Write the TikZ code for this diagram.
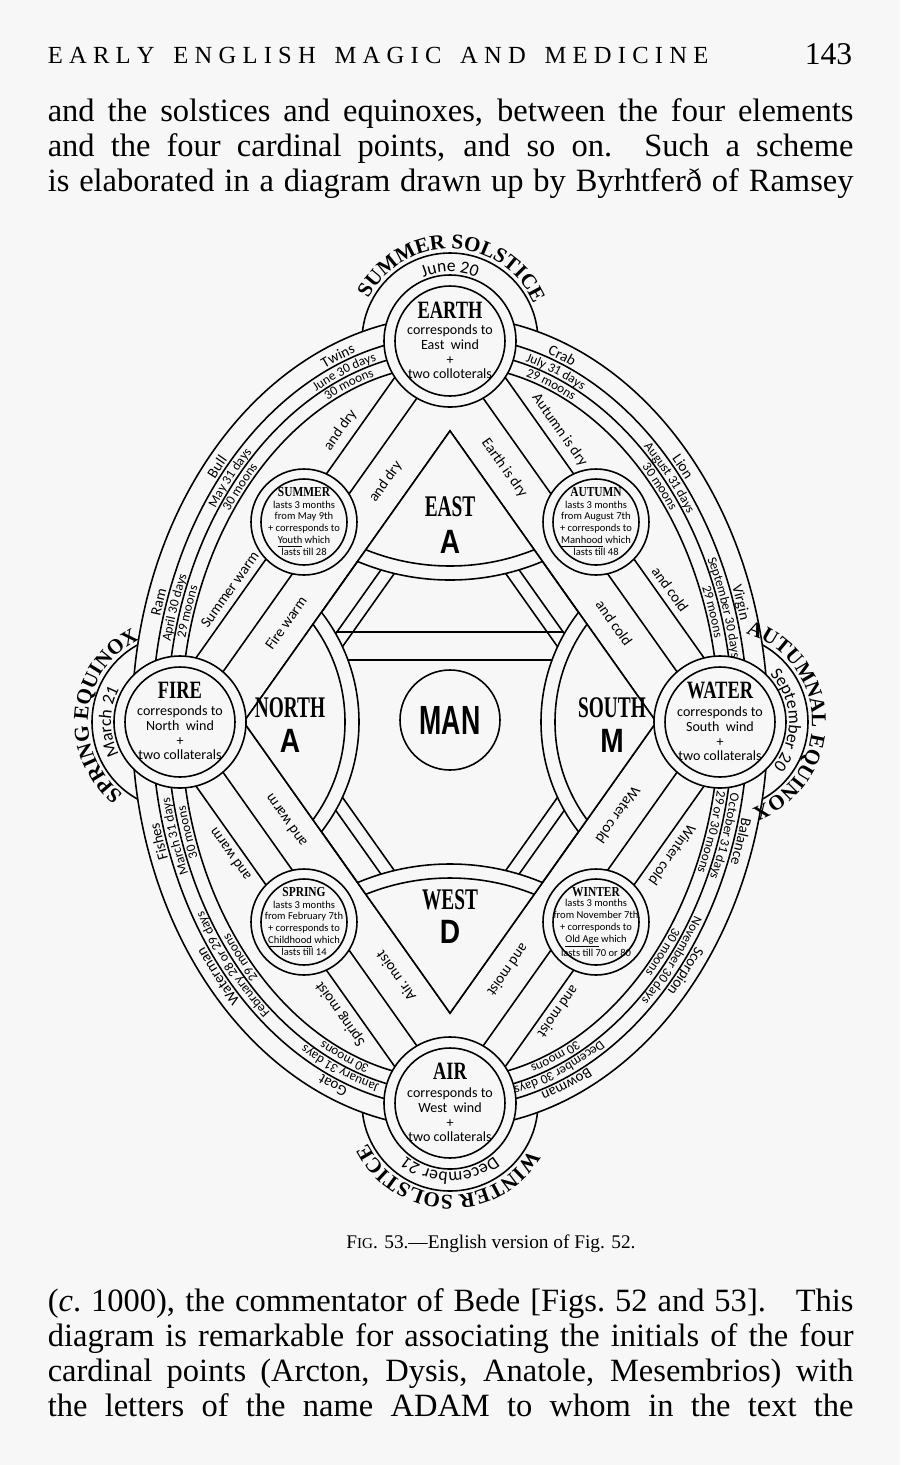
\documentclass[tikz,border=0pt]{standalone}
\usepackage{fontspec}
\usepackage{graphicx}
\usetikzlibrary{decorations.text}
\newfontfamily\handfont{Carlito}
\newfontfamily\romfont{Liberation Serif}[Ligatures=TeX]
\newfontfamily\blockfont{Liberation Sans}
\definecolor{paper}{RGB}{247,247,247}
\newcommand\signfont{\handfont\fontsize{8.5}{9}\selectfont}
\newcommand\bandfont{\handfont\fontsize{7.5}{8}\selectfont}
\newcommand\datefont{\handfont\fontsize{10}{11}\selectfont}
\newcommand\solfont{\romfont\bfseries\fontsize{12}{13}\selectfont}
\newcommand\fullline[1]{\makebox[458.6pt][s]{#1}}
\tikzset{
  ring/.style={draw,fill=paper},
  body/.style={font=\romfont\fontsize{18.5}{20}\selectfont,anchor=base west,inner sep=0pt},
  elemname/.style={font=\romfont\bfseries\fontsize{10.5}{12}\selectfont,inner sep=0pt},
  elemtext/.style={font=\handfont\fontsize{8}{8.3}\selectfont,align=center,inner sep=0pt},
  seasonname/.style={font=\romfont\bfseries\fontsize{6.5}{8}\selectfont,inner sep=0pt},
  seasontext/.style={font=\handfont\fontsize{6}{6.7}\selectfont,align=center,inner sep=0pt},
  quality/.style={font=\handfont\fontsize{8.5}{9}\selectfont,inner sep=0pt},
  compass/.style={font=\romfont\bfseries\fontsize{11}{13}\selectfont,inner sep=0pt},
  cardletter/.style={font=\blockfont\bfseries\fontsize{16}{18}\selectfont,inner sep=0pt},
  curved/.style={decorate,decoration={text along path,text align=center,text={#1}}},
}
\begin{document}
\begin{tikzpicture}[x=0.02cm,y=-0.02cm,line width=0.9pt]
\useasboundingbox (0,0) rectangle (900,1465);
\fill[paper] (0,0) rectangle (900,1465);

% page text
\node[anchor=base west,font=\romfont\fontsize{14}{16}\selectfont,inner sep=0pt] (runhead) at (47,63)
  {\makebox[376pt]{E\hfill A\hfill R\hfill L\hfill Y\hfill\hfill\hfill E\hfill N\hfill G\hfill L\hfill I\hfill S\hfill H\hfill\hfill\hfill M\hfill A\hfill G\hfill I\hfill C\hfill\hfill\hfill A\hfill N\hfill D\hfill\hfill\hfill M\hfill E\hfill D\hfill I\hfill C\hfill I\hfill N\hfill E}};
\node[anchor=base east,font=\romfont\fontsize{18}{20}\selectfont,inner sep=0pt] (folio) at (853,64) {143};
\node[body] (topline1) at (47,121) {\fullline{and the solstices and equinoxes, between the four elements}};
\node[body] (topline2) at (47,156) {\fullline{and the four cardinal points, and so on.\ \ Such a scheme}};
\node[body] (topline3) at (47,191) {\fullline{is elaborated in a diagram drawn up by Byrhtferð of Ramsey}};
\node[anchor=base,font=\romfont\fontsize{11}{12}\selectfont,inner sep=0pt] (caption) at (491,1248)
  {F\scalebox{0.78}{IG}. 53.---English version of Fig. 52.};
\node[body] (botline1) at (47,1311) {\fullline{(\textit{c}.\ 1000), the commentator of Bede [Figs.\ 52 and 53].\ \ \ This}};
\node[body] (botline2) at (47,1346) {\fullline{diagram is remarkable for associating the initials of the four}};
\node[body] (botline3) at (47,1381) {\fullline{cardinal points (Arcton, Dysis, Anatole, Mesembrios) with}};
\node[body] (botline4) at (47,1416) {\fullline{the letters of the name ADAM to whom in the text the}};

% centres
\coordinate (C) at (450,722);
\coordinate (E) at (450,341);
\coordinate (F) at (180,722);
\coordinate (W) at (720,722);
\coordinate (A) at (450,1103);
\coordinate (Su) at (304,522);
\coordinate (Au) at (596,522);
\coordinate (Sp) at (304,922);
\coordinate (Wi) at (596,922);
\coordinate (M) at (450,720);

% solstice and equinox arcs
\foreach \p in {E,F,W,A}
  \draw (\p) circle[radius=88];

% zodiac bands
\draw[fill=paper] (C) ellipse[x radius=318,y radius=406];
\draw (C) ellipse[x radius=298,y radius=386];
\draw (C) ellipse[x radius=283,y radius=371];
\draw (C) ellipse[x radius=269,y radius=357];

% season bands
\draw (430.4,327.1) -- (160.4,708.1);
\draw (454.9,344.5) -- (184.9,725.5);
\draw (469.6,327.1) -- (739.6,708.1);
\draw (445.1,344.5) -- (715.1,725.5);
\draw (739.6,735.9) -- (469.6,1116.9);
\draw (715.1,718.5) -- (445.1,1099.5);
\draw (430.4,1116.9) -- (160.4,735.9);
\draw (454.9,1099.5) -- (184.9,718.5);

% inner rhombus and the double diamond round man
\draw (450,430.9) -- (243.7,722) -- (450,1013.1) -- (656.3,722) -- cycle;
\draw (450,472.4) -- (273.1,722) -- (450,971.6) -- (626.9,722) -- cycle;
\draw (450,494.9) -- (289.1,722) -- (450,949.1) -- (610.9,722) -- cycle;
\draw (336.3,632) -- (563.7,632);
\draw (317,660) -- (583,660);

% the four quarters
\begin{scope}
  \clip (450,430.9) -- (243.7,722) -- (450,1013.1) -- (656.3,722) -- cycle;
  \fill[paper] (E) circle[radius=239] (A) circle[radius=239] (F) circle[radius=179] (W) circle[radius=179];
  \foreach \p/\r in {E/225,E/239,A/225,A/239,F/165,F/179,W/165,W/179}
    \draw (\p) circle[radius=\r];
\end{scope}
\draw (450,430.9) -- (243.7,722) -- (450,1013.1) -- (656.3,722) -- cycle;

% seasons and elements
\foreach \p in {Su,Au,Sp,Wi} {
  \draw[ring] (\p) circle[radius=53];
  \draw (\p) circle[radius=43];
}
\foreach \p in {E,F,W,A} {
  \draw[ring] (\p) circle[radius=66];
  \draw (\p) circle[radius=55];
}
\draw (M) circle[radius=50];

% element rings
\node[elemname] (earthname) at (450,310) {\scalebox{1}[1.35]{EARTH}};
\node[elemtext] (earthtext) at (450,352) {corresponds to\\East\ \ wind\\+\\two colloterals};
\node[elemname] (firename) at (180,690) {\scalebox{1}[1.35]{FIRE}};
\node[elemtext] (firetext) at (180,733) {corresponds to\\North\ \ wind\\+\\two collaterals};
\node[elemname] (watername) at (720,690) {\scalebox{1}[1.35]{WATER}};
\node[elemtext] (watertext) at (720,734) {corresponds to\\South\ \ wind\\+\\two collaterals};
\node[elemname] (airname) at (450,1071) {\scalebox{1}[1.35]{AIR}};
\node[elemtext] (airtext) at (450,1115) {corresponds to\\West\ \ wind\\+\\two collaterals};

% season circles
\node[seasonname] (summername) at (304,492) {\scalebox{1}[1.2]{SUMMER}};
\node[seasontext] (summertext) at (304,528) {lasts 3 months\\from May 9th\\+ corresponds to\\\underline{Youth} which\\lasts till 28};
\node[seasonname] (autumnname) at (596,492) {\scalebox{1}[1.2]{AUTUMN}};
\node[seasontext] (autumntext) at (596,528) {lasts 3 months\\from August 7th\\+ corresponds to\\\underline{Manhood} which\\lasts till 48};
\node[seasonname] (springname) at (304,892) {\scalebox{1}[1.2]{SPRING}};
\node[seasontext] (springtext) at (304,928) {lasts 3 months\\from February 7th\\+ corresponds to\\\underline{Childhood} which\\lasts till 14};
\node[seasonname] (wintername) at (596,892) {\scalebox{1}[1.2]{WINTER}};
\node[seasontext] (wintertext) at (596,928) {lasts 3 months\\from November 7th\\+ corresponds to\\\underline{Old Age} which\\lasts till 70 or 80};

% qualities along the bands
\node[quality,rotate=54.65] (summerwarm) at (229.8,589.4) {Summer warm};
\node[quality,rotate=54.65] (summerdry) at (340.4,430) {and dry};
\node[quality,rotate=54.65] (firewarm) at (285.8,623) {Fire warm};
\node[quality,rotate=54.65] (firedry) at (385.8,481.8) {and dry};
\node[quality,rotate=-54.65] (autumndry) at (559.6,430) {Autumn is dry};
\node[quality,rotate=-54.65] (autumncold) at (670.2,589.4) {and cold};
\node[quality,rotate=-54.65] (earthdry) at (504.3,467.9) {Earth is dry};
\node[quality,rotate=-54.65] (earthcold) at (614.2,623) {and cold};
\node[quality,rotate=-125.35] (wintercold) at (672.4,855) {Winter cold};
\node[quality,rotate=-125.35] (wintermoist) at (558.6,1012) {and moist};
\node[quality,rotate=-125.35] (watercold) at (618.2,815.3) {Water cold};
\node[quality,rotate=-125.35] (watermoist) at (508.4,970.4) {and moist};
\node[quality,rotate=125.35] (springmoist) at (340.4,1014) {Spring moist};
\node[quality,rotate=125.35] (springwarm) at (229.8,854.6) {and warm};
\node[quality,rotate=125.35] (airmoist) at (395.7,976.1) {Air. moist};
\node[quality,rotate=125.35] (airwarm) at (285.8,821) {and warm};

% quarters
\node[compass] (east) at (450,507) {\scalebox{1}[1.55]{EAST}};
\node[cardletter] (eastA) at (450,542) {\scalebox{1}[1.2]{A}};
\node[compass] (north) at (290,708) {\scalebox{1}[1.55]{NORTH}};
\node[cardletter] (northA) at (290,741) {\scalebox{1}[1.2]{A}};
\node[compass] (south) at (612,708) {\scalebox{1}[1.55]{SOUTH}};
\node[cardletter] (southM) at (612,741) {\scalebox{1}[1.2]{M}};
\node[compass] (west) at (450,900) {\scalebox{1}[1.55]{WEST}};
\node[cardletter] (westD) at (450,932) {\scalebox{1}[1.2]{D}};
\node[font=\blockfont\bfseries\fontsize{16}{18}\selectfont,inner sep=0pt] (man) at (M) {\scalebox{0.95}[1.45]{MAN}};

% solstices and equinoxes
\path[curved={|\solfont|SUMMER SOLSTICE}] ([shift={(190:92)}]E) arc[start angle=190,end angle=354,radius=92];
\path[curved={|\datefont|June 20}] ([shift={(230:69)}]E) arc[start angle=230,end angle=310,radius=69];
\path[curved={|\solfont|SPRING EQUINOX}] ([shift={(104:92)}]F) arc[start angle=104,end angle=268,radius=92];
\path[curved={|\datefont|March 21}] ([shift={(140:69)}]F) arc[start angle=140,end angle=220,radius=69];
\path[curved={|\solfont|AUTUMNAL EQUINOX}] ([shift={(270:92)}]W) arc[start angle=270,end angle=446,radius=92];
\path[curved={|\datefont|September 20}] ([shift={(300:69)}]W) arc[start angle=300,end angle=416,radius=69];
\path[curved={|\solfont|WINTER SOLSTICE}] ([shift={(10:92)}]A) arc[start angle=10,end angle=174,radius=92];
\path[curved={|\datefont|December 21}] ([shift={(40:69)}]A) arc[start angle=40,end angle=140,radius=69];

% signs, months and moons
\foreach \ang/\txt in {198/Ram,221/Bull,249/Twins,291/Crab,319/Lion,342/Virgin,18/Balance,40/Scorpion,68/Bowman,112/Goat,139/Waterman,162/Fishes}
  \path[decorate,decoration={text along path,text align=center,text/.expanded={|\noexpand\signfont|\txt}}]
    ([shift={(\ang-16:301 and 389)}]C) arc[start angle=\ang-16,end angle=\ang+16,x radius=301,y radius=389];
\foreach \ang/\txt in {198/April 30 days,221/May 31 days,249/June 30 days,291/July 31 days,319/August 31 days,342/September 30 days,18/October 31 days,40/November 30 days,68/December 30 days,112/January 31 days,139/February 28 or 29 days,162/March 31 days}
  \path[decorate,decoration={text along path,text align=center,text/.expanded={|\noexpand\bandfont|\txt}}]
    ([shift={(\ang-16:286 and 374)}]C) arc[start angle=\ang-16,end angle=\ang+16,x radius=286,y radius=374];
\foreach \ang/\txt in {198/29 moons,221/30 moons,249/30 moons,291/29 moons,319/30 moons,342/29 moons,18/29 or 30 moons,40/30 moons,68/30 moons,112/30 moons,139/29 moons,162/30 moons}
  \path[decorate,decoration={text along path,text align=center,text/.expanded={|\noexpand\bandfont|\txt}}]
    ([shift={(\ang-16:272 and 360)}]C) arc[start angle=\ang-16,end angle=\ang+16,x radius=272,y radius=360];
\end{tikzpicture}
\end{document}
